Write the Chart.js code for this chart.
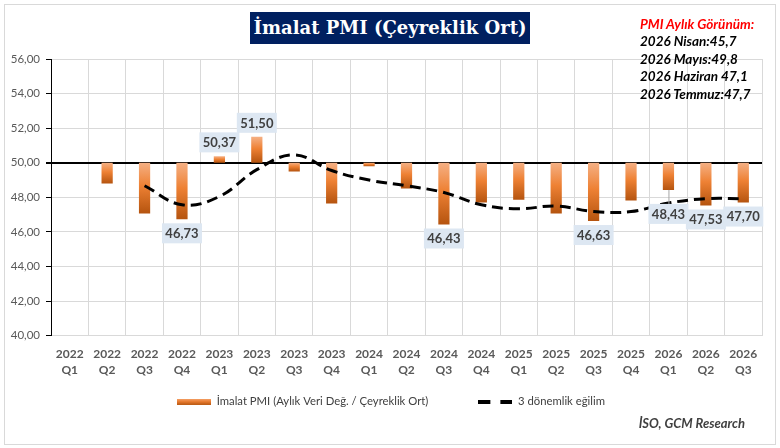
<!DOCTYPE html>
<html>
<head>
<meta charset="utf-8">
<script src="https://cdn.jsdelivr.net/npm/chart.js@4.4.1/dist/chart.umd.min.js"></script>
<style>
html,body{margin:0;padding:0;background:#fff;}
#wrap{position:relative;width:780px;height:448px;overflow:hidden;background:#fff;}
#frame{position:absolute;left:4px;top:4px;width:772px;height:441px;border:1px solid #d9d9d9;box-sizing:border-box;}
#chart{position:absolute;left:0;top:0;}
#title{position:absolute;left:250px;top:12px;width:280px;height:32px;background:#002060;color:#fff;
  font-family:"DejaVu Serif",serif;font-weight:bold;font-size:18px;line-height:32px;text-align:center;white-space:nowrap;}
#note{position:absolute;left:640px;top:16px;font-family:Lato,sans-serif;font-weight:bold;font-style:italic;font-size:13.5px;line-height:17.4px;color:#000;white-space:nowrap;}
#note .hd{color:#ff0000;}
#source{position:absolute;right:35px;top:415px;font-family:Lato,sans-serif;font-weight:bold;font-style:italic;font-size:13px;color:#404040;white-space:nowrap;}
</style>
</head>
<body>
<div id="wrap">
  <div id="frame"></div>
  <canvas id="chart" width="780" height="448"></canvas>
  <div id="title">İmalat PMI (Çeyreklik Ort)</div>
  <div id="note">
    <div class="hd">PMI Aylık Görünüm:</div>
    <div>2026 Nisan:45,7</div>
    <div>2026 Mayıs:49,8</div>
    <div>2026 Haziran 47,1</div>
    <div>2026 Temmuz:47,7</div>
  </div>
  <div id="source">İSO, GCM Research</div>
</div>
<script>
// ---- data ----
const categories = ['2022 Q1','2022 Q2','2022 Q3','2022 Q4','2023 Q1','2023 Q2','2023 Q3','2023 Q4',
  '2024 Q1','2024 Q2','2024 Q3','2024 Q4','2025 Q1','2025 Q2','2025 Q3','2025 Q4','2026 Q1','2026 Q2','2026 Q3'];
const pmiValues = [null, 48.80, 47.07, 46.73, 50.37, 51.50, 49.50, 47.65, 49.80, 48.51, 46.43, 47.70,
  47.86, 47.07, 46.63, 47.82, 48.43, 47.53, 47.70];
const trendValues = [null, null, 48.67, 47.57, 48.05, 49.60, 50.46, 49.55, 49.00, 48.67, 48.28, 47.57,
  47.34, 47.50, 47.18, 47.18, 47.67, 47.92, 47.92];
const seriesNames = ['İmalat PMI (Aylık Veri Değ. / Çeyreklik Ort)', '3 dönemlik eğilim'];
const baseline = 50;
const yMin = 40, yMax = 56, yStep = 2;
const labelledIdx = [3, 4, 5, 10, 14, 16, 17, 18];
const leaderIdx = [16];

// ---- helpers ----
const fmt = v => v.toFixed(2).replace('.', ',');
const FONT = 'Lato';

function barGradient(c) {
  const chart = c.chart;
  const {ctx, chartArea, scales} = chart;
  if (!chartArea || c.type !== 'data' || !c.raw) return '#ed7d31';
  const a = c.raw[0], b = c.raw[1];
  const y1 = scales.y.getPixelForValue(Math.max(a, b));
  let y2 = scales.y.getPixelForValue(Math.min(a, b));
  if (y2 - y1 < 1) y2 = y1 + 1;
  const g = ctx.createLinearGradient(0, y1, 0, y2);
  g.addColorStop(0, '#f5b084');
  g.addColorStop(0.45, '#ee8134');
  g.addColorStop(1, '#b5540f');
  return g;
}

function makeBarSwatch() {
  const c = document.createElement('canvas');
  c.width = 34; c.height = 6;
  const g = c.getContext('2d');
  const gr = g.createLinearGradient(0, 0, 0, 6);
  gr.addColorStop(0, '#f4a46c');
  gr.addColorStop(0.5, '#e97a2e');
  gr.addColorStop(1, '#b85a14');
  g.fillStyle = gr; g.fillRect(0, 0, 34, 6);
  return c;
}
function makeDashSwatch() {
  const c = document.createElement('canvas');
  c.width = 34; c.height = 4;
  const g = c.getContext('2d');
  g.fillStyle = '#000';
  g.fillRect(0, 0, 12, 4);
  g.fillRect(22, 0, 12, 4);
  return c;
}
const barSwatch = makeBarSwatch();
const dashSwatch = makeDashSwatch();

const boxLabels = {
  id: 'boxLabels',
  afterDatasetsDraw(chart) {
    const {ctx} = chart;
    const meta = chart.getDatasetMeta(0);
    const ys = chart.scales.y;
    ctx.save();
    ctx.font = 'bold 13px ' + FONT;
    ctx.textAlign = 'center';
    ctx.textBaseline = 'middle';
    labelledIdx.forEach(i => {
      const v = pmiValues[i];
      const el = meta.data[i];
      if (v == null || !el) return;
      const w = 40, h = 20;
      const x = el.x;
      const end = ys.getPixelForValue(v);
      const leader = leaderIdx.includes(i);
      let top;
      if (v >= baseline) top = end - 4 - h;
      else top = end + (leader ? 14 : 4);
      if (leader) {
        ctx.strokeStyle = '#a6a6a6';
        ctx.lineWidth = 1;
        ctx.beginPath();
        ctx.moveTo(x + 0.5, end);
        ctx.lineTo(x + 0.5, top);
        ctx.stroke();
      }
      ctx.fillStyle = '#dde7f2';
      ctx.fillRect(x - w / 2, top, w, h);
      ctx.fillStyle = '#404040';
      ctx.fillText(fmt(v), x, top + h / 2 + 0.5);
    });
    ctx.restore();
  }
};

// place the legend row where the reference has it
const legendPlace = {
  id: 'legendPlace',
  afterLayout(chart) {
    const lg = chart.legend;
    if (!lg) return;
    const dy = 346 - lg.top;
    const dx = 6;
    lg.top += dy; lg.bottom += dy;
    lg.left += dx; lg.right += dx;
  }
};

new Chart(document.getElementById('chart'), {
  data: {
    labels: categories,
    datasets: [
      {
        type: 'bar',
        label: seriesNames[0],
        data: pmiValues.map(v => v == null ? null : [baseline, v]),
        backgroundColor: barGradient,
        borderWidth: 0,
        barPercentage: 0.3,
        categoryPercentage: 1,
        order: 1
      },
      {
        type: 'line',
        label: seriesNames[1],
        data: trendValues,
        borderColor: '#000',
        borderWidth: 3,
        borderDash: [11, 6],
        borderCapStyle: 'butt',
        pointRadius: 0,
        tension: 0.4,
        fill: false,
        order: 0
      }
    ]
  },
  options: {
    responsive: false,
    animation: false,
    devicePixelRatio: 1,
    layout: {padding: {left: 8, right: 18, top: 59, bottom: 0}},
    plugins: {
      tooltip: {enabled: false},
      title: {display: false},
      legend: {
        display: true,
        position: 'bottom',
        labels: {
          usePointStyle: true,
          pointStyleWidth: 34,
          padding: 50,
          color: '#404040',
          font: {family: FONT, size: 11.3},
          generateLabels: () => [
            {text: seriesNames[0], pointStyle: barSwatch, fillStyle: '#ed7d31', strokeStyle: 'rgba(0,0,0,0)', lineWidth: 0, hidden: false, datasetIndex: 0, fontColor: '#404040'},
            {text: seriesNames[1], pointStyle: dashSwatch, fillStyle: '#000', strokeStyle: 'rgba(0,0,0,0)', lineWidth: 0, hidden: false, datasetIndex: 1, fontColor: '#404040'}
          ]
        }
      }
    },
    scales: {
      x: {
        type: 'category',
        offset: true,
        afterFit: s => { s.height = 41; },
        grid: {color: '#d9d9d9', drawTicks: false, offset: true},
        border: {color: '#d9d9d9'},
        ticks: {
          autoSkip: false, maxRotation: 0, minRotation: 0, padding: 10,
          color: '#595959',
          font: {family: FONT, size: 12, weight: 'bold', lineHeight: 16 / 12},
          callback: (v, i) => categories[i].split(' ')
        }
      },
      y: {
        min: yMin, max: yMax,
        afterFit: s => { s.width = 43; },
        grid: {
          color: c => (c.tick && c.tick.value === baseline) ? '#000' : '#d9d9d9',
          lineWidth: c => (c.tick && c.tick.value === baseline) ? 2 : 1,
          tickLength: 5,
          tickColor: '#000'
        },
        border: {color: '#000', width: 1},
        ticks: {
          stepSize: yStep, padding: 6,
          color: '#595959',
          font: {family: FONT, size: 11.5},
          callback: v => fmt(v)
        }
      }
    }
  },
  plugins: [boxLabels, legendPlace]
});
</script>
</body>
</html>
